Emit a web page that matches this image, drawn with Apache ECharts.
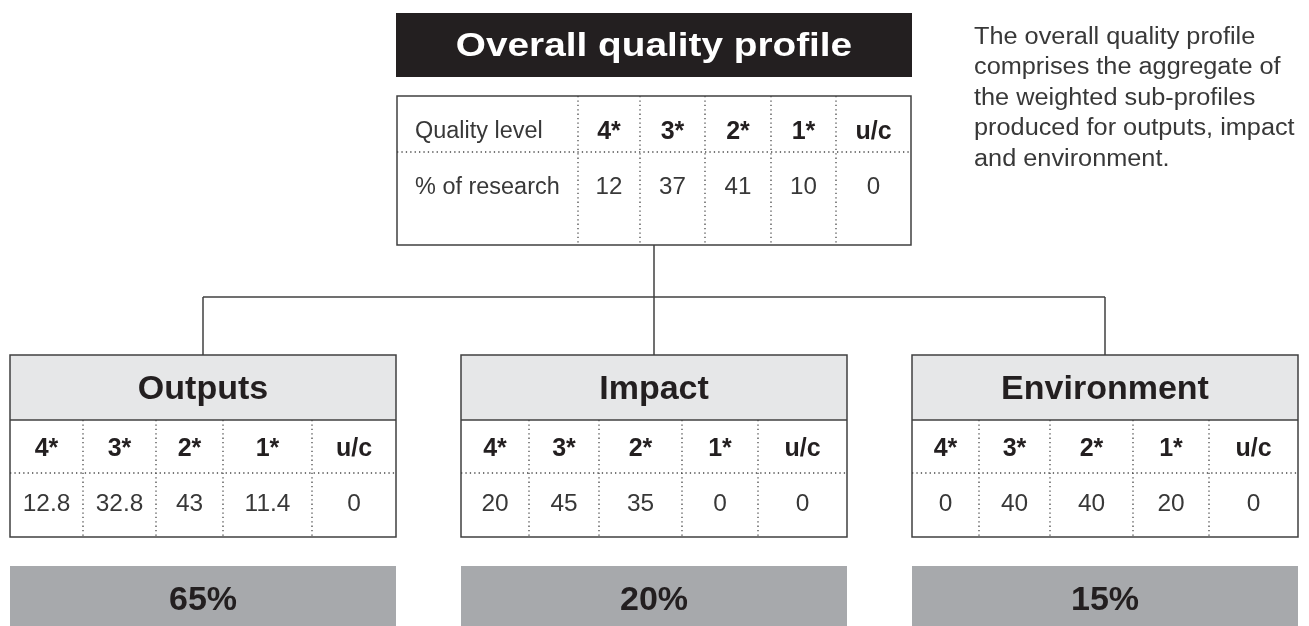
<!DOCTYPE html>
<html><head><meta charset="utf-8">
<script src="https://cdn.jsdelivr.net/npm/echarts@6/dist/echarts.min.js"></script>
<style>html,body{margin:0;padding:0;background:#fff}#c{width:1309px;height:626px}</style>
</head><body><div id="c"></div>
<script>
// ---------- data ----------
const qualityLevels = ['4*', '3*', '2*', '1*', 'u/c'];
const rowLabels = ['Quality level', '% of research'];
const overallTitle = 'Overall quality profile';
const overallValues = [12, 37, 41, 10, 0];
const subProfileNames = ['Outputs', 'Impact', 'Environment'];
const outputsValues = [12.8, 32.8, 43, 11.4, 0];
const impactValues = [20, 45, 35, 0, 0];
const environmentValues = [0, 40, 40, 20, 0];
const subProfileWeights = [65, 20, 15];
const noteLines = ['The overall quality profile', 'comprises the aggregate of', 'the weighted sub-profiles', 'produced for outputs, impact', 'and environment.'];

// ---------- layout & style ----------
const L = {
  title: { x0: 396, x1: 912, y0: 13, y1: 77, textY: 47 },
  overall: { cols: [397, 578, 640, 705, 771, 836, 911], y0: 96, ySep: 152, y1: 245, textY: [132, 188], labelX: 415 },
  sub: { cols: [[10, 83, 156, 223, 312, 396], [461, 529, 599, 682, 758, 847], [912, 979, 1050, 1133, 1209, 1298]],
         y0: 355, yHead: 420, ySep: 473, y1: 537, headY: 389.5, levelY: 449, valueY: 505 },
  weight: { y0: 566, y1: 640, textY: 600.5 },
  busY: 297,
  note: { x: 974, y0: 37.7, dy: 30.4 }
};
const INK = '#231f20', TXT = '#383838', LINE = '#404040', DOT = '#4a4a4a', HEAD = '#e6e7e8', WBOX = '#a7a9ac';
const FF = '"Liberation Sans", Arial, sans-serif';
const subValues = [outputsValues, impactValues, environmentValues];

function txt(p, text, font, fill, align, sx) {
  return { type: 'text', x: p[0], y: p[1], scaleX: sx || 1, scaleY: 1,
    style: { text: text, x: 0, y: 0, font: font, fill: fill,
      align: align || 'center', verticalAlign: 'middle', textAlign: align || 'center', textVerticalAlign: 'middle' } };
}
function ln(a, b, dashed, w) {
  return { type: 'line', shape: { x1: a[0], y1: a[1], x2: b[0], y2: b[1] },
    style: { stroke: dashed ? DOT : LINE, lineWidth: w || (dashed ? 1.3 : 1.5), lineDash: dashed ? [1.3, 3.1] : null } };
}
function rect(a, b, fill, stroke) {
  return { type: 'rect', shape: { x: a[0], y: a[1], width: b[0] - a[0], height: b[1] - a[1] },
    style: { fill: fill || 'none', stroke: stroke || null, lineWidth: 1.5 } };
}

const chart = echarts.init(document.getElementById('c'));
chart.setOption({
  animation: false,
  grid: { left: 0, right: 0, top: 0, bottom: 0 },
  xAxis: { type: 'value', min: 0, max: 1309, show: false },
  yAxis: { type: 'value', min: 0, max: 626, inverse: true, show: false },
  series: [
    { // title bar
      type: 'custom', silent: true, clip: false,
      data: [[0]],
      renderItem: function (params, api) {
        const t = L.title, c = (x, y) => api.coord([x, y]);
        return { type: 'group', children: [
          rect(c(t.x0, t.y0), c(t.x1, t.y1), INK),
          txt(c((t.x0 + t.x1) / 2, t.textY), overallTitle, 'bold 34px ' + FF, '#ffffff', 'center', 1.14)
        ] };
      }
    },
    { // overall table, one item per quality level
      type: 'custom', silent: true, clip: false,
      data: qualityLevels.map((q, i) => [i, overallValues[i]]),
      renderItem: function (params, api) {
        const o = L.overall, c = (x, y) => api.coord([x, y]);
        const i = api.value(0), v = api.value(1);
        const x0 = o.cols[i + 1], x1 = o.cols[i + 2], cx = (x0 + x1) / 2;
        const ch = [
          ln(c(x0, o.y0), c(x0, o.y1), true),
          txt(c(cx, o.textY[0]), qualityLevels[i], 'bold 25px ' + FF, INK),
          txt(c(cx, o.textY[1]), String(v), '23px ' + FF, TXT, 'center', 1.05)
        ];
        if (i === 0) {
          ch.push(ln(c(o.cols[0], o.ySep), c(o.cols[o.cols.length - 1], o.ySep), true));
          ch.push(rect(c(o.cols[0], o.y0), c(o.cols[o.cols.length - 1], o.y1), 'none', LINE));
          rowLabels.forEach((r, k) => ch.push(txt(c(o.labelX, o.textY[k]), r, '23px ' + FF, TXT, 'left', 1.02)));
        }
        return { type: 'group', children: ch };
      }
    },
    { // connectors
      type: 'custom', silent: true, clip: false,
      data: subProfileNames.map((n, t) => [t]),
      renderItem: function (params, api) {
        const c = (x, y) => api.coord([x, y]);
        const t = api.value(0), cols = L.sub.cols;
        const centre = k => (cols[k][0] + cols[k][cols[k].length - 1]) / 2;
        const ch = [ln(c(centre(t), L.busY), c(centre(t), L.sub.y0), false)];
        if (t === 0) {
          const oc = (L.overall.cols[0] + L.overall.cols[L.overall.cols.length - 1]) / 2;
          ch.push(ln(c(oc, L.overall.y1), c(oc, L.busY), false));
          ch.push(ln(c(centre(0), L.busY), c(centre(cols.length - 1), L.busY), false));
        }
        return { type: 'group', children: ch };
      }
    },
    { // sub-profile tables, one item per cell
      type: 'custom', silent: true, clip: false,
      data: subValues.flatMap((vals, t) => vals.map((v, i) => [t, i, v])),
      renderItem: function (params, api) {
        const s = L.sub, c = (x, y) => api.coord([x, y]);
        const t = api.value(0), i = api.value(1), v = api.value(2);
        const cols = s.cols[t];
        const x0 = cols[i], x1 = cols[i + 1], cx = (x0 + x1) / 2;
        const ch = [];
        if (i === 0) {
          const xa = cols[0], xb = cols[cols.length - 1];
          ch.push(rect(c(xa, s.y0), c(xb, s.yHead), HEAD));
          ch.push(txt(c((xa + xb) / 2, s.headY), subProfileNames[t], 'bold 34px ' + FF, INK));
          ch.push(ln(c(xa, s.ySep), c(xb, s.ySep), true));
        } else {
          ch.push(ln(c(x0, s.yHead), c(x0, s.y1), true));
        }
        ch.push(txt(c(cx, s.levelY), qualityLevels[i], 'bold 25px ' + FF, INK));
        ch.push(txt(c(cx, s.valueY), String(v), '23.5px ' + FF, TXT, 'center', 1.04));
        if (i === cols.length - 2) {
          ch.push(ln(c(cols[0], s.yHead), c(cols[cols.length - 1], s.yHead), false));
          ch.push(rect(c(cols[0], s.y0), c(cols[cols.length - 1], s.y1), 'none', LINE));
        }
        return { type: 'group', children: ch };
      }
    },
    { // weights
      type: 'custom', silent: true, clip: false,
      data: subProfileWeights.map((w, t) => [t, w]),
      renderItem: function (params, api) {
        const c = (x, y) => api.coord([x, y]);
        const t = api.value(0), w = api.value(1), cols = L.sub.cols[t];
        const xa = cols[0], xb = cols[cols.length - 1];
        return { type: 'group', children: [
          rect(c(xa, L.weight.y0), c(xb, L.weight.y1), WBOX),
          txt(c((xa + xb) / 2, L.weight.textY), w + '%', 'bold 34px ' + FF, INK)
        ] };
      }
    },
    { // explanatory note
      type: 'custom', silent: true, clip: false,
      data: noteLines.map((s, i) => [i]),
      renderItem: function (params, api) {
        const i = api.value(0);
        return txt(api.coord([L.note.x, L.note.y0 + i * L.note.dy]), noteLines[i], '23px ' + FF, TXT, 'left', 1.1);
      }
    }
  ]
});
</script></body></html>
